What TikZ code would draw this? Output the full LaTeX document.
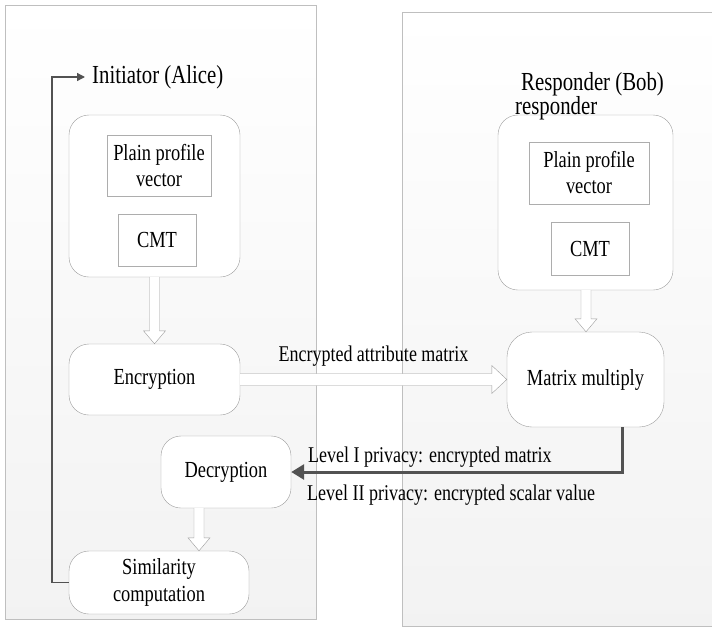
\documentclass[tikz,border=0pt]{standalone}
\usepackage{fontspec}
\setmainfont{Liberation Serif}[FakeStretch=0.8]
\usetikzlibrary{calc,arrows.meta}

\newcommand{\hollowdown}[3]{%
\draw[hollow] let \p1=([xshift=#3]#1.south), \p2=(#2.north) in
 (\x1-5pt,\y1) -- (\x1-5pt,\y2+13pt) -- (\x1-11pt,\y2+13pt) -- (\x1,\y2)
 -- (\x1+11pt,\y2+13pt) -- (\x1+5pt,\y2+13pt) -- (\x1+5pt,\y1);}

\begin{document}
\begin{tikzpicture}[x=1pt,y=-1pt,
 panel/.style={draw=black!25,top color=white,middle color=white,bottom color=black!5},
 sz/.style 2 args={minimum width=#1,minimum height=#2},
 group/.style={draw=black!38,fill=white,rounded corners=20pt,inner sep=0pt},
 inbox/.style={draw=black!32,fill=white,align=center,inner sep=0pt,font=\fontsize{23}{26}\selectfont},
 stage/.style={draw=black!38,fill=white,rounded corners=20pt,align=center,inner sep=0pt,font=\fontsize{23}{27}\selectfont},
 hollow/.style={draw=black!38,fill=white,line join=miter},
 reply/.style={draw=black!68,line width=3pt,-{Triangle[length=13pt,width=15pt]}},
 loopline/.style={draw=black!68,line width=1.3pt,-{Triangle[length=8pt,width=8pt]}},
 title/.style={inner sep=0pt,font=\fontsize{26}{28}\selectfont},
 note/.style={inner sep=0pt,font=\fontsize{22.5}{25}\selectfont}]
\useasboundingbox (0,0) rectangle (712,627);
\begin{scope}
\clip (0,0) rectangle (712,627);
\shade[panel] (5,5) rectangle (316,619);
\shade[panel] (402,12) rectangle (730,626);
\end{scope}

\node[group,sz={171pt}{162pt}] (outa) at (154.5,196) {};
\node[inbox,sz={104pt}{61pt}] (ppva) at (159,165.5) {Plain profile\\vector};
\node[inbox,sz={78pt}{52pt}] (cmta) at (157,240) {CMT};
\node[stage,sz={171pt}{71pt}] (enc) at (154.5,379.5) {Encryption};
\node[stage,sz={130pt}{72pt}] (dec) at (226,472) {Decryption};
\node[stage,sz={180pt}{63pt}] (sim) at (159,582.5) {Similarity\\computation};

\node[group,sz={175pt}{175pt}] (outb) at (585.5,202.5) {};
\node[inbox,sz={120pt}{62pt}] (ppvb) at (589,173) {Plain profile\\vector};
\node[inbox,sz={78pt}{53pt}] (cmtb) at (590,248.5) {CMT};
\node[stage,sz={157pt}{95pt},rounded corners=25pt] (mat) at (585.5,379.5) {Matrix multiply};

\node[title,anchor=west] (init) at (92,77) {Initiator (Alice)};
\node[title,anchor=west] (resp) at (521,84) {Responder (Bob)};
\node[title,anchor=west] (respb) at (515,108) {responder};

\node[note] (encl) at (373.5,356) {Encrypted attribute matrix};
\node[note,anchor=west] (lvlone) at (308,457) {Level I privacy: encrypted matrix};
\node[note,anchor=west] (lvltwo) at (307,495) {Level II privacy: encrypted scalar value};

\hollowdown{outa}{enc}{0pt}
\hollowdown{outb}{mat}{0.5pt}
\hollowdown{dec}{sim}{-27pt}
\draw[hollow] let \p1=(enc.east), \p2=(mat.west) in
 (\x1,\y1+6pt) -- (\x2-15pt,\y1+6pt) -- (\x2-15pt,\y1+14pt) -- (\x2,\y1)
 -- (\x2-15pt,\y1-14pt) -- (\x2-15pt,\y1-6pt) -- (\x1,\y1-6pt);

\draw[reply] ([xshift=36.5pt]mat.south) |- (dec.east);
\draw[loopline] (sim.west) -| ([xshift=-40pt]init.west) -- ([xshift=-7pt]init.west);
\end{tikzpicture}
\end{document}
